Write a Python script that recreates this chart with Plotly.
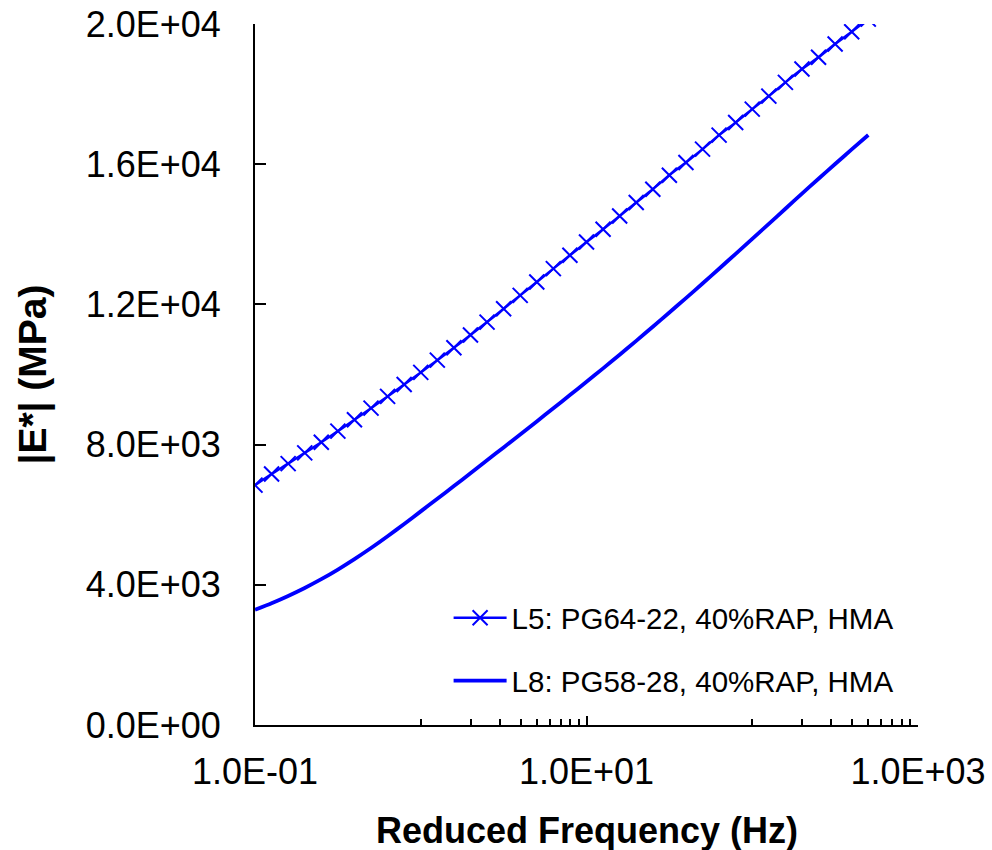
import plotly.graph_objects as go

# Reduced frequency grid (Hz), 10 points per decade
freq = [0.1, 0.1259, 0.1585, 0.1995, 0.2512, 0.3162, 0.3981, 0.5012, 0.631, 0.7943,
        1.0, 1.259, 1.585, 1.995, 2.512, 3.162, 3.981, 5.012, 6.31, 7.943,
        10.0, 12.59, 15.85, 19.95, 25.12, 31.62, 39.81, 50.12, 63.1, 79.43,
        100.0, 125.9, 158.5, 199.5, 251.2, 316.2, 398.1, 501.2]

l5_modulus = [6843, 7163, 7457, 7763, 8066, 8385, 8710, 9040, 9375, 9715,
              10060, 10410, 10765, 11125, 11495, 11877, 12257, 12637, 13020, 13400,
              13780, 14143, 14523, 14906, 15286, 15686, 16049, 16429, 16829, 17191,
              17571, 17943, 18334, 18714, 19049, 19429, 19780, 20140]

l8_modulus = [3286, 3475, 3683, 3910, 4160, 4435, 4733, 5049, 5385, 5735,
              6095, 6454, 6818, 7182, 7551, 7920, 8289, 8662, 9035, 9414,
              9792, 10175, 10563, 10960, 11362, 11769, 12180, 12596, 13017, 13443,
              13868, 14299, 14729, 15159, 15585, 16006, 16421, 16833]

series_names = ["L5: PG64-22, 40%RAP, HMA", "L8: PG58-28, 40%RAP, HMA"]

x_major_vals = [0.1, 10, 1000]
x_major_text = ["1.0E-01", "1.0E+01", "1.0E+03"]
x_minor_vals = [1, 2, 3, 4, 5, 6, 7, 8, 9, 100, 200, 300, 400, 500, 600, 700, 800, 900]

y_tick_vals = [0, 4000, 8000, 12000, 16000, 20000]
y_tick_text = ["0.0E+00", "4.0E+03", "8.0E+03", "1.2E+04", "1.6E+04", "2.0E+04"]

FONT = "Liberation Sans, Arial, sans-serif"
BLUE = "#0000FF"

fig = go.Figure()
fig.add_trace(go.Scatter(
    x=freq, y=l5_modulus, name=series_names[0], mode="lines+markers",
    line=dict(color=BLUE, width=2.5, simplify=False, shape="spline", smoothing=0.6),
    marker=dict(symbol="x-thin", size=15, color=BLUE, line=dict(color=BLUE, width=2)),
    legend="legend",
))
fig.add_trace(go.Scatter(
    x=freq, y=l8_modulus, name=series_names[1], mode="lines",
    line=dict(color=BLUE, width=3.8, simplify=False, shape="spline", smoothing=0.6),
    legend="legend2",
))

axis_common = dict(
    showline=True, linecolor="black", linewidth=2,
    ticks="inside", tickcolor="black", tickwidth=1.5,
    showgrid=False, zeroline=False, automargin=False,
    tickfont=dict(family=FONT, size=36, color="black"),
)

fig.update_xaxes(
    type="log", range=[-1, 3],
    tickmode="array", tickvals=x_major_vals, ticktext=x_major_text,
    ticklen=9, ticklabelstandoff=14,
    minor=dict(tickmode="array", tickvals=x_minor_vals, ticks="inside",
               ticklen=6, tickcolor="black", tickwidth=1.5),
    **axis_common,
)
fig.update_yaxes(
    range=[0, 20000],
    tickmode="array", tickvals=y_tick_vals, ticktext=y_tick_text,
    ticklen=11, ticklabelstandoff=25,
    **axis_common,
)

legend_common = dict(
    font=dict(family=FONT, size=29.5, color="black"),
    bgcolor="rgba(0,0,0,0)", borderwidth=0,
    xref="paper", yref="paper", xanchor="left", yanchor="middle",
    itemwidth=53,
)
fig.update_layout(
    width=992, height=850,
    margin=dict(l=255, r=74, t=24, b=125),
    paper_bgcolor="white", plot_bgcolor="white",
    showlegend=True,
    legend=dict(x=0.292, y=0.1526, **legend_common),
    legend2=dict(x=0.292, y=0.0628, **legend_common),
    annotations=[
        dict(text="<b>Reduced Frequency (Hz)</b>", xref="paper", yref="paper",
             x=0.5, y=0, xanchor="center", yanchor="middle", yshift=-105,
             showarrow=False, font=dict(family=FONT, size=36, color="black")),
        dict(text="<b>|E*| (MPa)</b>", xref="paper", yref="paper",
             x=0, y=0.5, xanchor="center", yanchor="middle", xshift=-223,
             textangle=-90, showarrow=False,
             font=dict(family=FONT, size=39, color="black")),
    ],
)

fig.write_html("out.html")
